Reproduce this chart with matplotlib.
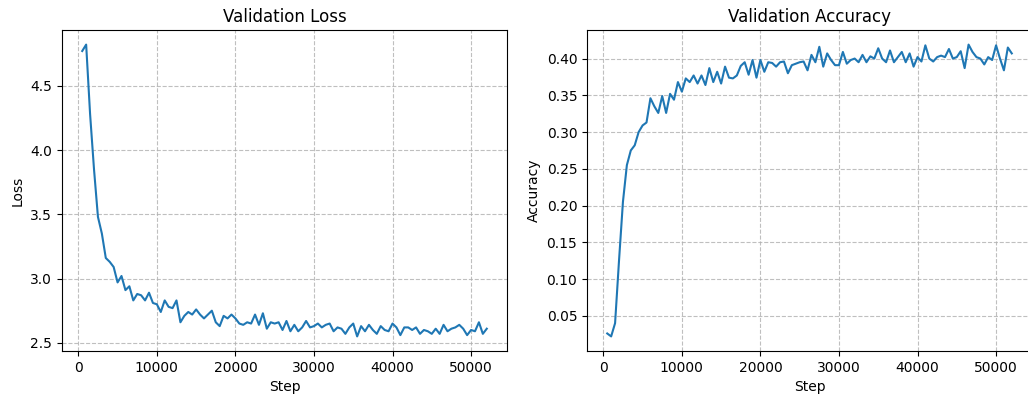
import numpy as np
import matplotlib
matplotlib.use('Agg')
import matplotlib.pyplot as plt

# validation every 500 steps
steps = np.arange(500, 52001, 500)

val_loss = [
    4.77, 4.82, 4.28, 3.85, 3.48, 3.35, 3.16, 3.13, 3.09, 2.97,
    3.02, 2.91, 2.94, 2.83, 2.88, 2.87, 2.83, 2.89, 2.81, 2.80,
    2.74, 2.83, 2.78, 2.77, 2.83, 2.66, 2.71, 2.74, 2.72, 2.76,
    2.72, 2.69, 2.72, 2.75, 2.66, 2.63, 2.71, 2.69, 2.72, 2.69,
    2.65, 2.64, 2.66, 2.65, 2.72, 2.64, 2.73, 2.61, 2.66, 2.65,
    2.66, 2.60, 2.67, 2.59, 2.64, 2.59, 2.62, 2.67, 2.62, 2.63,
    2.65, 2.62, 2.64, 2.65, 2.59, 2.62, 2.61, 2.57, 2.62, 2.65,
    2.55, 2.63, 2.59, 2.64, 2.60, 2.57, 2.63, 2.60, 2.59, 2.65,
    2.62, 2.56, 2.62, 2.62, 2.60, 2.62, 2.57, 2.60, 2.59, 2.57,
    2.61, 2.57, 2.64, 2.59, 2.61, 2.62, 2.64, 2.61, 2.56, 2.60,
    2.59, 2.66, 2.57, 2.61,
]

val_acc = [
    0.026, 0.022, 0.040, 0.125, 0.205, 0.255, 0.275, 0.282, 0.300, 0.309,
    0.313, 0.346, 0.335, 0.326, 0.349, 0.326, 0.352, 0.344, 0.368, 0.355,
    0.373, 0.368, 0.377, 0.366, 0.377, 0.364, 0.387, 0.368, 0.382, 0.366,
    0.389, 0.374, 0.373, 0.377, 0.390, 0.395, 0.378, 0.398, 0.374, 0.398,
    0.382, 0.395, 0.394, 0.389, 0.395, 0.396, 0.380, 0.391, 0.393, 0.395,
    0.396, 0.384, 0.405, 0.395, 0.416, 0.389, 0.407, 0.398, 0.391, 0.391,
    0.409, 0.393, 0.398, 0.400, 0.395, 0.405, 0.395, 0.403, 0.400, 0.414,
    0.400, 0.395, 0.411, 0.395, 0.402, 0.409, 0.395, 0.407, 0.389, 0.402,
    0.396, 0.418, 0.400, 0.396, 0.402, 0.404, 0.402, 0.413, 0.400, 0.402,
    0.410, 0.387, 0.419, 0.409, 0.402, 0.400, 0.392, 0.402, 0.398, 0.418,
    0.400, 0.384, 0.415, 0.407,
]

W, H = 1028, 396
fig = plt.figure(figsize=(W / 100, H / 100), dpi=100)
bottom = 1 - 351 / H
height = 321 / H
ax1 = fig.add_axes([62 / W, bottom, 445 / W, height])
ax2 = fig.add_axes([587 / W, bottom, 445 / W, height])

ax1.plot(steps, val_loss)
ax1.set_title('Validation Loss')
ax1.set_xlabel('Step')
ax1.set_ylabel('Loss')
ax1.grid(True, linestyle='--', alpha=0.8)

ax2.plot(steps, val_acc)
ax2.set_title('Validation Accuracy')
ax2.set_xlabel('Step')
ax2.set_ylabel('Accuracy')
ax2.grid(True, linestyle='--', alpha=0.8)

fig.savefig('out.png', dpi=100)
